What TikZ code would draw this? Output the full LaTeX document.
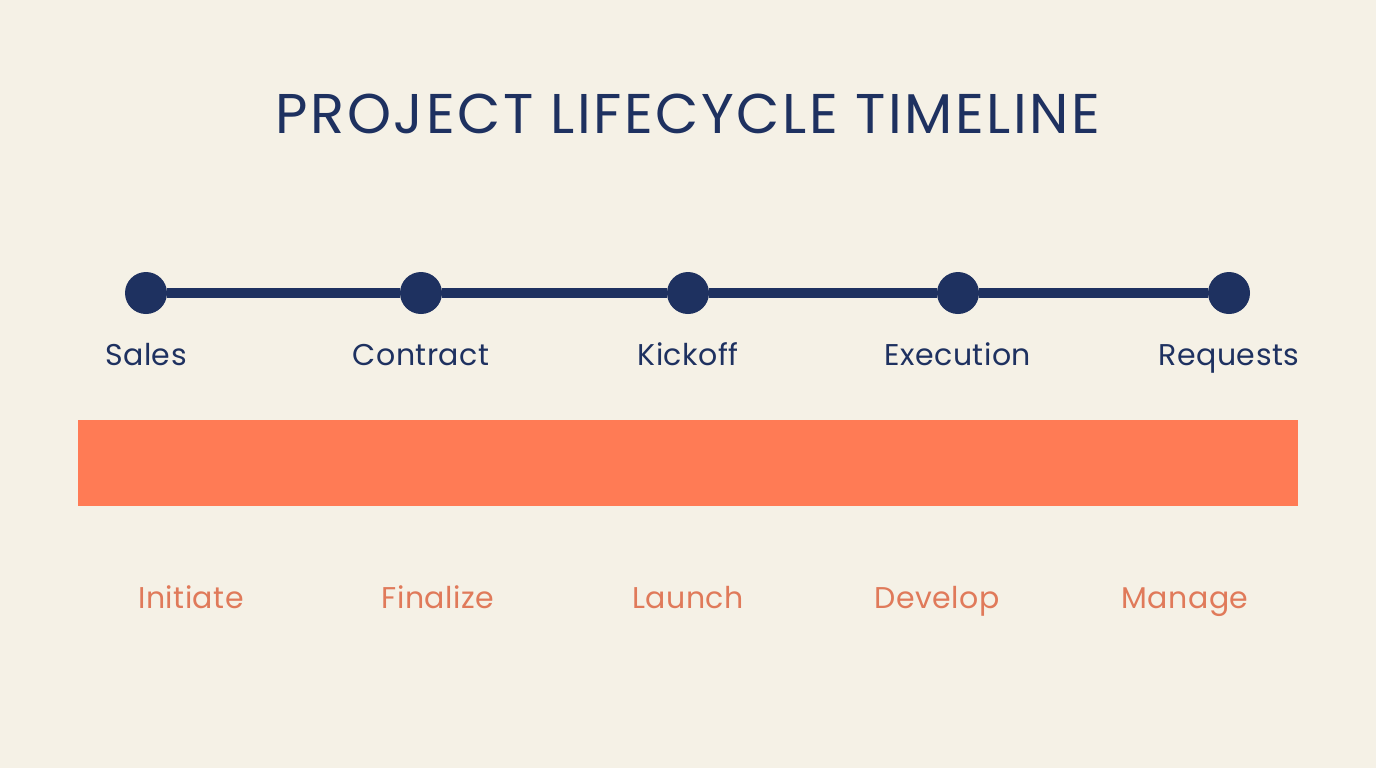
\documentclass[tikz,border=0pt]{standalone}
\usepackage{fontspec}
\setmainfont{Poppins}
\definecolor{bg}{HTML}{F5F1E6}
\definecolor{navy}{HTML}{1E3160}
\definecolor{barc}{HTML}{FF7B55}
\definecolor{lab}{HTML}{E07A5A}
\begin{document}
\begin{tikzpicture}[x=0.5pt,y=-0.5pt,
  dot/.style={circle,fill=navy,minimum size=21pt,inner sep=0pt},
  toplab/.style={text=navy,font=\fontsize{15}{18}\selectfont\addfontfeature{LetterSpace=1.5},anchor=base},
  botlab/.style={text=lab,font=\fontsize{15}{18}\selectfont\addfontfeature{LetterSpace=1.5},anchor=base},
  link/.style={draw=navy,line width=5pt}]
\fill[bg] (0,0) rectangle (1376,768);
\useasboundingbox (0,0) rectangle (1376,768);
\node[text=navy,font=\fontsize{28}{34}\selectfont\addfontfeature{LetterSpace=4.5},anchor=base] (title) at (688,133) {PROJECT LIFECYCLE TIMELINE};
\node[dot] (d1) at (146,293) {};
\node[dot] (d2) at (421,293) {};
\node[dot] (d3) at (688,293) {};
\node[dot] (d4) at (958,293) {};
\node[dot] (d5) at (1229,293) {};
\draw[link] (d1) -- (d2);
\draw[link] (d2) -- (d3);
\draw[link] (d3) -- (d4);
\draw[link] (d4) -- (d5);
\node[toplab] (l1) at (146,365) {Sales};
\node[toplab] (l2) at (421,365) {Contract};
\node[toplab] (l3) at (688,365) {Kickoff};
\node[toplab] (l4) at (958,365) {Execution};
\node[toplab] (l5) at (1229,365) {Requests};
\node[fill=barc,minimum width=610pt,minimum height=43pt,inner sep=0pt] (bar) at (688,463) {};
\node[botlab] (b1) at (191,608) {Initiate};
\node[botlab] (b2) at (438,608) {Finalize};
\node[botlab] (b3) at (688,608) {Launch};
\node[botlab] (b4) at (937,608) {Develop};
\node[botlab] (b5) at (1185,608) {Manage};
\end{tikzpicture}
\end{document}
